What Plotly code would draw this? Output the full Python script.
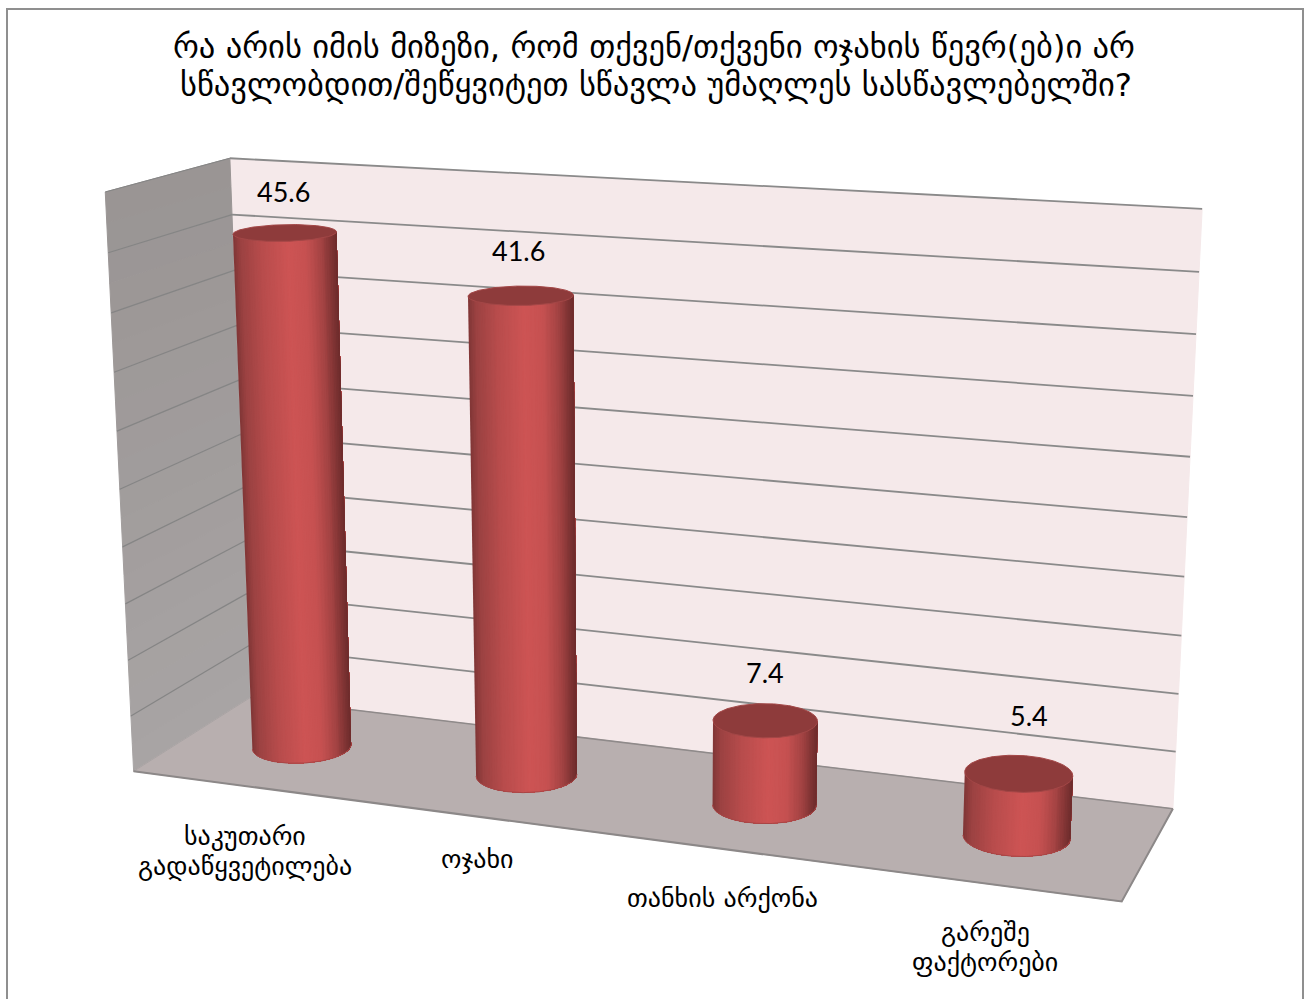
import numpy as np
import plotly.graph_objects as go

# ---- data ----
TITLE_LINES = ["რა არის იმის მიზეზი, რომ თქვენ/თქვენი ოჯახის წევრ(ებ)ი არ",
               "სწავლობდით/შეწყვიტეთ სწავლა უმაღლეს სასწავლებელში?"]
categories = [["საკუთარი", "გადაწყვეტილება"], ["ოჯახი"], ["თანხის არქონა"], ["გარეშე", "ფაქტორები"]]
values = [45.6, 41.6, 7.4, 5.4]
z_ticks = [0, 5, 10, 15, 20, 25, 30, 35, 40, 45, 50]

# ---- layout constants ----
W, H = 1305, 999
FONT = "DejaVu Sans"
NUM_FONT = "Lato"
label_xy = [(245, 851), (477, 859), (722, 898), (985, 947)]
value_off = [(-1, -41), (-2, -45), (0, -48), (10, -58)]
R_X, R_D = 0.201, 0.205

# camera calibration: world (category position, depth, value) -> page pixel
CAL = [((0, 1, 50), (230, 158)), ((4, 1, 50), (1202, 208.5)), ((0, 0, 50), (105, 192)),
       ((0, 0, 0), (133.5, 770)), ((0, 1, 0), (250, 698)), ((4, 1, 0), (1173, 807)),
       ((4, 0, 0), (1122, 901)),
       ((.5, .5, 0), (302, 747)), ((1.5, .5, 0), (527, 775)), ((2.5, .5, 0), (764, 805)),
       ((3.5, .5, 0), (1017, 838)), ((.5, .5, 45.6), (285, 233)), ((1.5, .5, 41.6), (521, 296)),
       ((2.5, .5, 7.4), (765, 720)), ((3.5, .5, 5.4), (1018, 775))]


def fit_camera(cal):
    A = []
    for (x, d, z), (u, v) in cal:
        p = [x / 4, d, z / 50, 1]
        u, v = u / 1000, v / 1000
        A.append(p + [0, 0, 0, 0] + [-u * c for c in p])
        A.append([0, 0, 0, 0] + p + [-v * c for c in p])
    return np.linalg.svd(np.array(A))[2][-1].reshape(3, 4)


P = fit_camera(CAL)


def proj(x, d, z):
    x, d, z = np.broadcast_arrays(np.asarray(x, float), np.asarray(d, float), np.asarray(z, float))
    q = P @ np.stack([x / 4, d, z / 50, np.ones_like(x)])
    return q[0] / q[2] * 1000, q[1] / q[2] * 1000


fig = go.Figure()


def poly(px, py, fill, line=None, lw=1):
    fig.add_trace(go.Scatter(x=list(px), y=list(py), mode="lines", fill="toself", fillcolor=fill,
                             line=dict(color=line or fill, width=lw), hoverinfo="skip", showlegend=False))


def seg(px, py, color, lw):
    fig.add_trace(go.Scatter(x=list(px), y=list(py), mode="lines", line=dict(color=color, width=lw),
                             hoverinfo="skip", showlegend=False))


def mix(c1, c2, t):
    return "rgb(%d,%d,%d)" % tuple(round(a + (b - a) * t) for a, b in zip(c1, c2))


# frame
seg([7, 7, 1303, 1303], [H, 9, 9, H], "#8f8f8f", 2)

# back wall
px, py = proj([0, 4, 4, 0, 0], [1, 1, 1, 1, 1], [0, 0, 50, 50, 0])
poly(px, py, "#f5e9ea")
# side wall, shaded by height
zmax = z_ticks[-1]
bands = np.arange(0, zmax, 2.5)
for zb in bands:
    px, py = proj([0, 0, 0, 0, 0], [0, 1, 1, 0, 0], [zb, zb, zb + 2.5, zb + 2.5, zb])
    poly(px, py, mix((168, 164, 164), (153, 148, 147), zb / zmax))
# floor
px, py = proj([0, 4, 4, 0, 0], [0, 0, 1, 1, 0], [0, 0, 0, 0, 0])
poly(px, py, "#b8afaf")

# gridlines
for z in z_ticks:
    px, py = proj([0, 0, 4], [0, 1, 1], [z, z, z])
    if z == 0:
        seg(px[:2], py[:2], "#a9a4a4", 1)
        seg(px[1:], py[1:], "#8f8a8a", 1.5)
    else:
        seg(px[:2], py[:2], "#858585", 1.2)
        seg(px[1:], py[1:], "#8a8a8a", 1.8)
px, py = proj([0, 4, 4], [0, 0, 1], [0, 0, 0])
seg(px, py, "#8c8888", 2)

# cylinders
GU = [-1.0, -0.85, -0.45, 0.05, 0.4, 0.68, 0.88, 1.0]
GC = np.array([(128, 54, 54), (156, 66, 66), (184, 76, 76), (205, 84, 84), (198, 81, 81),
               (166, 68, 68), (128, 52, 52), (108, 43, 43)], float)

for i, v in enumerate(values):
    cx = i + 0.5
    t = np.linspace(0, 2 * np.pi, 241)
    wx = cx + R_X * np.cos(t)
    wd = 0.5 + R_D * np.sin(t)
    bx, by = proj(wx, wd, 0 * t)
    tx, ty = proj(wx, wd, v + 0 * t)
    il, ir = int(np.argmin(bx[:-1])), int(np.argmax(bx[:-1]))
    n = 240
    arc = [(il + k) % n for k in range(((ir - il) % n) + 1)]
    other = [(il - k) % n for k in range(((il - ir) % n) + 1)]
    if by[arc].mean() < by[other].mean():
        arc = other
    arc = np.array(arc)
    xc, hw = (bx[il] + bx[ir]) / 2, (bx[ir] - bx[il]) / 2
    # painter's order: each slice runs from its start to the right-hand silhouette, so no seams
    edges = np.linspace(-1, 1, 61)
    for e0, e1 in zip(edges[:-1], edges[1:]):
        sel = arc[(bx[arc] - xc) / hw >= e0]
        u = (e0 + e1) / 2
        col = "rgb(%d,%d,%d)" % tuple(round(np.interp(u, GU, GC[:, c])) for c in range(3))
        ox = list(bx[sel]) + [tx[sel[-1]], tx[sel[0]], bx[sel[0]]]
        oy = list(by[sel]) + [ty[sel[-1]], ty[sel[0]], by[sel[0]]]
        fig.add_trace(go.Scatter(x=ox, y=oy, mode="none", fill="toself", fillcolor=col,
                                 hoverinfo="skip", showlegend=False))
    seg(bx[arc], by[arc], "#a84646", 1)
    poly(tx, ty, "#8e3b3b", "#a34747", 1)

# ---- text ----
ann = []
for k, line in enumerate(TITLE_LINES):
    ann.append(dict(x=654 + k * 2, y=47 + 38 * k, text=line, showarrow=False, xref="x", yref="y",
                    font=dict(family=FONT, size=32.5, color="#000000")))
for i, v in enumerate(values):
    x0, y0 = proj(i + 0.5, 0.5, v)
    ann.append(dict(x=float(x0) + value_off[i][0], y=float(y0) + value_off[i][1], text=f"{v:.1f}",
                    showarrow=False, xref="x", yref="y", font=dict(family=NUM_FONT, size=27, color="#000000")))
for (lx, ly), c in zip(label_xy, categories):
    for j, line in enumerate(c):
        ann.append(dict(x=lx, y=ly + (j - (len(c) - 1) / 2) * 30, text=line, showarrow=False, xref="x", yref="y",
                        font=dict(family=FONT, size=26, color="#000000")))

fig.update_layout(width=W, height=H, margin=dict(l=0, r=0, t=0, b=0), paper_bgcolor="#ffffff",
                  plot_bgcolor="#ffffff", showlegend=False, annotations=ann,
                  xaxis=dict(range=[0, W], visible=False, fixedrange=True),
                  yaxis=dict(range=[H, 0], visible=False, fixedrange=True))
fig.write_html("out.html", config=dict(displayModeBar=False),
               post_script="document.body.style.margin='0';document.body.style.overflow='hidden';")
